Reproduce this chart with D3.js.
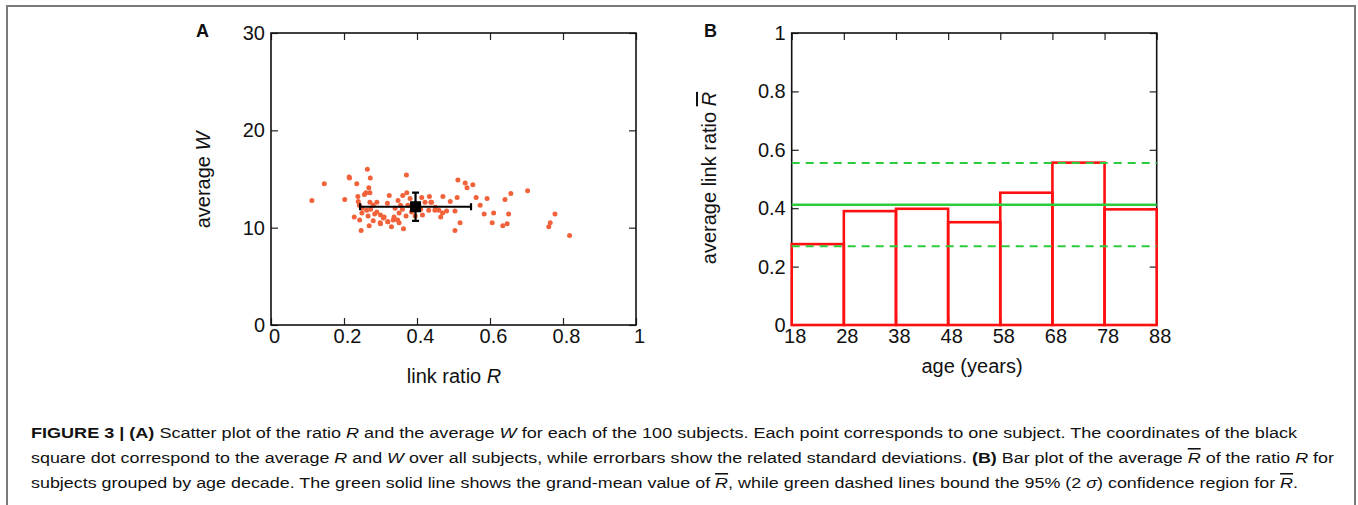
<!DOCTYPE html>
<html>
<head>
<meta charset="utf-8">
<script src="https://cdn.jsdelivr.net/npm/d3@7"></script>
<style>
  body { margin: 0; background: #fff; }
  svg text { font-family: "Liberation Sans", Arial, sans-serif; fill: #111; }
</style>
</head>
<body>
<svg id="chart" width="1358" height="505"></svg>
<script>
// panel A: one point per subject (link ratio R, average W)
const scatterR = [0.112, 0.146, 0.214, 0.215, 0.264, 0.272, 0.235, 0.202, 0.238, 0.256,
  0.260, 0.271, 0.268, 0.239, 0.242, 0.249, 0.228, 0.243, 0.247, 0.269,
  0.266, 0.271, 0.290, 0.273, 0.284, 0.280, 0.299, 0.308, 0.300, 0.319,
  0.324, 0.348, 0.361, 0.371, 0.372, 0.351, 0.337, 0.347, 0.351, 0.330,
  0.363, 0.370, 0.320, 0.381, 0.413, 0.422, 0.434, 0.438, 0.432, 0.449,
  0.465, 0.471, 0.460, 0.491, 0.510, 0.481, 0.504, 0.512, 0.532, 0.537,
  0.553, 0.562, 0.573, 0.592, 0.584, 0.610, 0.606, 0.518, 0.504, 0.635,
  0.647, 0.651, 0.641, 0.657, 0.703, 0.761, 0.765, 0.778, 0.818, 0.385,
  0.400, 0.395, 0.410, 0.375, 0.415, 0.250, 0.262, 0.280, 0.290, 0.310,
  0.320, 0.300, 0.335, 0.340, 0.355, 0.360, 0.450, 0.470, 0.440];
const scatterW = [12.8, 14.5, 15.2, 15.1, 16.0, 15.1, 14.5, 12.9, 13.2, 13.4,
  13.6, 13.6, 14.1, 12.7, 12.3, 11.5, 11.1, 10.8, 9.7, 10.2,
  11.2, 12.6, 12.6, 11.9, 11.4, 10.7, 10.5, 11.0, 11.3, 12.5,
  13.3, 12.8, 13.3, 15.4, 13.6, 11.5, 11.1, 10.8, 10.5, 10.1,
  9.9, 11.2, 10.6, 13.0, 13.1, 12.6, 13.2, 12.6, 11.8, 11.8,
  11.1, 13.2, 11.8, 12.7, 13.1, 11.7, 11.7, 14.9, 14.6, 14.1,
  14.4, 13.1, 12.3, 13.0, 11.4, 11.5, 10.5, 10.5, 9.7, 10.2,
  10.4, 11.4, 12.9, 13.5, 13.8, 10.1, 10.5, 11.4, 9.2, 11.6,
  12.4, 11.2, 11.9, 12.3, 11.3, 12.0, 11.8, 12.3, 11.6, 11.1,
  10.6, 10.4, 10.8, 12.0, 12.3, 11.9, 12.1, 11.5, 12.6];
const meanR = 0.396, sdR = 0.152;
const meanW = 12.15, sdW = 1.45;

const xTicksA = [0, 0.2, 0.4, 0.6, 0.8, 1];
const yTicksA = [0, 10, 20, 30];

// panel B: average R per age decade
const ageEdges = [18, 28, 38, 48, 58, 68, 78, 88];
const barMeans = [0.277, 0.390, 0.398, 0.352, 0.453, 0.556, 0.396];
const grandMean = 0.412;
const ciLow = 0.270, ciHigh = 0.555;
const yTicksB = [0, 0.2, 0.4, 0.6, 0.8, 1];

const svg = d3.select("#chart");
const tickLen = 7;
const labelSize = 20;

// outer figure border
svg.append("rect")
  .attr("x", 7).attr("y", 6).attr("width", 1348).attr("height", 530)
  .attr("fill", "none").attr("stroke", "#7a7a7a").attr("stroke-width", 2);

function drawAxes(g, x, y, xTicks, yTicks, xFmt, yFmt, xDx) {
  const [x0, x1] = x.range();
  const [y0, y1] = y.range();

  const bottom = g.append("g").attr("transform", `translate(0,${y0})`)
    .call(d3.axisBottom(x).tickValues(xTicks).tickSizeInner(-tickLen).tickSizeOuter(0).tickPadding(4).tickFormat(xFmt));
  bottom.selectAll("text").attr("dx", xDx);
  g.append("g").attr("transform", `translate(0,${y1})`)
    .call(d3.axisTop(x).tickValues(xTicks).tickSizeInner(-tickLen).tickSizeOuter(0).tickFormat(""));
  g.append("g").attr("transform", `translate(${x0},0)`)
    .call(d3.axisLeft(y).tickValues(yTicks).tickSizeInner(-tickLen).tickSizeOuter(0).tickPadding(6).tickFormat(yFmt));
  g.append("g").attr("transform", `translate(${x1},0)`)
    .call(d3.axisRight(y).tickValues(yTicks).tickSizeInner(-tickLen).tickSizeOuter(0).tickFormat(""));

  g.selectAll(".domain").remove();
  g.selectAll(".tick line").attr("stroke", "#222").attr("stroke-width", 1.2);
  g.selectAll(".tick text").attr("font-size", labelSize).attr("font-family", "Liberation Sans, Arial, sans-serif").attr("fill", "#111");

  g.append("rect")
    .attr("x", x0).attr("y", y1).attr("width", x1 - x0).attr("height", y0 - y1)
    .attr("fill", "none").attr("stroke", "#111").attr("stroke-width", 1.6);
}

// ---- panel A ----
const xA = d3.scaleLinear().domain([0, 1]).range([271, 636]);
const yA = d3.scaleLinear().domain([0, 30]).range([325, 33]);
const gA = svg.append("g");

drawAxes(gA, xA, yA, xTicksA, yTicksA, d3.format("~g"), d3.format("~g"), 3);

gA.append("g").selectAll("circle")
  .data(d3.zip(scatterR, scatterW))
  .join("circle")
  .attr("cx", d => xA(d[0]))
  .attr("cy", d => yA(d[1]))
  .attr("r", 2.5)
  .attr("fill", "#f2623a");

const err = gA.append("g").attr("stroke", "#000").attr("stroke-width", 2.2);
err.append("line")
  .attr("x1", xA(meanR - sdR)).attr("x2", xA(meanR + sdR))
  .attr("y1", yA(meanW)).attr("y2", yA(meanW));
err.append("line")
  .attr("x1", xA(meanR)).attr("x2", xA(meanR))
  .attr("y1", yA(meanW - sdW)).attr("y2", yA(meanW + sdW));
[meanR - sdR, meanR + sdR].forEach(v => {
  err.append("line").attr("x1", xA(v)).attr("x2", xA(v))
    .attr("y1", yA(meanW) - 3.5).attr("y2", yA(meanW) + 3.5);
});
[meanW - sdW, meanW + sdW].forEach(v => {
  err.append("line").attr("x1", xA(meanR) - 3.5).attr("x2", xA(meanR) + 3.5)
    .attr("y1", yA(v)).attr("y2", yA(v));
});
gA.append("rect")
  .attr("x", xA(meanR) - 5.5).attr("y", yA(meanW) - 5.5)
  .attr("width", 11).attr("height", 11).attr("fill", "#000");

gA.append("text").attr("x", 196).attr("y", 37)
  .attr("font-size", 18).attr("font-weight", "bold").text("A");

const xTitleA = gA.append("text").attr("x", 454).attr("y", 383)
  .attr("text-anchor", "middle").attr("font-size", labelSize);
xTitleA.append("tspan").text("link ratio ");
xTitleA.append("tspan").attr("font-style", "italic").text("R");

const yTitleA = gA.append("text").attr("transform", "translate(210,180) rotate(-90)")
  .attr("text-anchor", "middle").attr("font-size", labelSize);
yTitleA.append("tspan").text("average ");
yTitleA.append("tspan").attr("font-style", "italic").text("W");

// ---- panel B ----
const xB = d3.scaleLinear().domain([18, 88]).range([791.7, 1156.7]);
const yB = d3.scaleLinear().domain([0, 1]).range([325, 33]);
const gB = svg.append("g");

drawAxes(gB, xB, yB, ageEdges, yTicksB, d3.format("d"), d3.format("~g"), 3);

gB.append("g").selectAll("rect")
  .data(barMeans)
  .join("rect")
  .attr("x", (d, i) => xB(ageEdges[i]))
  .attr("y", d => yB(d))
  .attr("width", (d, i) => xB(ageEdges[i + 1]) - xB(ageEdges[i]))
  .attr("height", d => yB(0) - yB(d))
  .attr("fill", "none")
  .attr("stroke", "#ff1010")
  .attr("stroke-width", 2.6);

const green = "#2ccc3c";
gB.append("line")
  .attr("x1", xB(18)).attr("x2", xB(88))
  .attr("y1", yB(grandMean)).attr("y2", yB(grandMean))
  .attr("stroke", green).attr("stroke-width", 2.6);
[ciLow, ciHigh].forEach(v => {
  gB.append("line")
    .attr("x1", xB(18)).attr("x2", xB(88))
    .attr("y1", yB(v)).attr("y2", yB(v))
    .attr("stroke", green).attr("stroke-width", 2)
    .attr("stroke-dasharray", "8,6");
});

gB.append("text").attr("x", 704).attr("y", 37)
  .attr("font-size", 18).attr("font-weight", "bold").text("B");

gB.append("text").attr("x", 972).attr("y", 373)
  .attr("text-anchor", "middle").attr("font-size", labelSize).text("age (years)");

const yTitleB = gB.append("text").attr("transform", "translate(716,178) rotate(-90)")
  .attr("text-anchor", "middle").attr("font-size", labelSize);
yTitleB.append("tspan").text("average link ratio ");
yTitleB.append("tspan").attr("font-style", "italic")
  .style("text-decoration", "overline").text("R");

// ---- caption ----
const captionLines = [
  { y: 438, end: 1297, parts: [
    ["FIGURE 3 | (A)", "b"], [" Scatter plot of the ratio ", ""], ["R", "i"],
    [" and the average ", ""], ["W", "i"],
    [" for each of the 100 subjects. Each point corresponds to one subject. The coordinates of the black", ""]] },
  { y: 463, end: 1334, parts: [
    ["square dot correspond to the average ", ""], ["R", "i"], [" and ", ""], ["W", "i"],
    [" over all subjects, while errorbars show the related standard deviations. ", ""], ["(B)", "b"],
    [" Bar plot of the average ", ""], ["R", "io"], [" of the ratio ", ""], ["R", "i"], [" for", ""]] },
  { y: 488, end: 1298, parts: [
    ["subjects grouped by age decade. The green solid line shows the grand-mean value of ", ""], ["R", "io"],
    [", while green dashed lines bound the 95% (2 ", ""], ["σ", "i"],
    [") confidence region for ", ""], ["R", "io"], [".", ""]] }
];

captionLines.forEach(line => {
  const t = svg.append("text")
    .attr("x", 31).attr("y", line.y)
    .attr("font-size", 15.5)
    .attr("fill", "#231f20")
    .attr("textLength", line.end - 31)
    .attr("lengthAdjust", "spacingAndGlyphs")
    .style("font-family", "'Liberation Sans Narrow', 'Liberation Sans', Arial, sans-serif");
  line.parts.forEach(([txt, st]) => {
    const s = t.append("tspan").text(txt);
    if (st.includes("b")) s.attr("font-weight", "bold");
    if (st.includes("i")) s.attr("font-style", "italic");
    if (st.includes("o")) s.style("text-decoration", "overline");
  });
});
</script>
</body>
</html>
